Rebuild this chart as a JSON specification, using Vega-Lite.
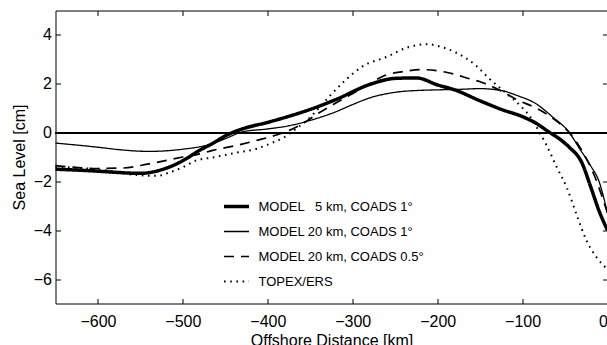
{
  "$schema": "https://vega.github.io/schema/vega-lite/v6.json",
  "width": 552,
  "height": 293,
  "autosize": {"type": "none"},
  "padding": {"left": 55.5, "top": 10.5, "right": 0, "bottom": 41.5},
  "background": "white",
  "config": {
    "view": {"stroke": "black", "strokeWidth": 1},
    "font": "Liberation Sans",
    "axis": {"grid": false, "domain": false, "tickColor": "black", "tickSize": -5, "tickWidth": 1, "labelColor": "black", "labelFont": "Liberation Sans", "labelFontSize": 16, "titleFont": "Liberation Sans", "titleFontSize": 16, "titleFontWeight": "normal", "titleColor": "black"}
  },
  "data": {"values": [
    {"s": "MODEL \u20075 km, COADS 1°", "x": -650, "y": -1.5},
    {"s": "MODEL \u20075 km, COADS 1°", "x": -600, "y": -1.58},
    {"s": "MODEL \u20075 km, COADS 1°", "x": -578, "y": -1.63},
    {"s": "MODEL \u20075 km, COADS 1°", "x": -550, "y": -1.67},
    {"s": "MODEL \u20075 km, COADS 1°", "x": -525, "y": -1.52},
    {"s": "MODEL \u20075 km, COADS 1°", "x": -500, "y": -1.15},
    {"s": "MODEL \u20075 km, COADS 1°", "x": -480, "y": -0.72},
    {"s": "MODEL \u20075 km, COADS 1°", "x": -468, "y": -0.5},
    {"s": "MODEL \u20075 km, COADS 1°", "x": -445, "y": -0.05},
    {"s": "MODEL \u20075 km, COADS 1°", "x": -430, "y": 0.15},
    {"s": "MODEL \u20075 km, COADS 1°", "x": -400, "y": 0.42},
    {"s": "MODEL \u20075 km, COADS 1°", "x": -374, "y": 0.68},
    {"s": "MODEL \u20075 km, COADS 1°", "x": -350, "y": 0.95},
    {"s": "MODEL \u20075 km, COADS 1°", "x": -320, "y": 1.35},
    {"s": "MODEL \u20075 km, COADS 1°", "x": -280, "y": 1.97},
    {"s": "MODEL \u20075 km, COADS 1°", "x": -250, "y": 2.22},
    {"s": "MODEL \u20075 km, COADS 1°", "x": -225, "y": 2.24},
    {"s": "MODEL \u20075 km, COADS 1°", "x": -200, "y": 1.95},
    {"s": "MODEL \u20075 km, COADS 1°", "x": -180, "y": 1.75},
    {"s": "MODEL \u20075 km, COADS 1°", "x": -150, "y": 1.3},
    {"s": "MODEL \u20075 km, COADS 1°", "x": -125, "y": 0.95},
    {"s": "MODEL \u20075 km, COADS 1°", "x": -100, "y": 0.65},
    {"s": "MODEL \u20075 km, COADS 1°", "x": -85, "y": 0.4},
    {"s": "MODEL \u20075 km, COADS 1°", "x": -70, "y": 0.05},
    {"s": "MODEL \u20075 km, COADS 1°", "x": -55, "y": -0.3},
    {"s": "MODEL \u20075 km, COADS 1°", "x": -45, "y": -0.6},
    {"s": "MODEL \u20075 km, COADS 1°", "x": -30, "y": -1.25},
    {"s": "MODEL \u20075 km, COADS 1°", "x": -20, "y": -2.2},
    {"s": "MODEL \u20075 km, COADS 1°", "x": -10, "y": -3.2},
    {"s": "MODEL \u20075 km, COADS 1°", "x": 0, "y": -4.0},

    {"s": "MODEL 20 km, COADS 1°", "x": -650, "y": -0.43},
    {"s": "MODEL 20 km, COADS 1°", "x": -600, "y": -0.6},
    {"s": "MODEL 20 km, COADS 1°", "x": -575, "y": -0.7},
    {"s": "MODEL 20 km, COADS 1°", "x": -540, "y": -0.77},
    {"s": "MODEL 20 km, COADS 1°", "x": -500, "y": -0.68},
    {"s": "MODEL 20 km, COADS 1°", "x": -470, "y": -0.5},
    {"s": "MODEL 20 km, COADS 1°", "x": -450, "y": -0.25},
    {"s": "MODEL 20 km, COADS 1°", "x": -430, "y": 0.03},
    {"s": "MODEL 20 km, COADS 1°", "x": -400, "y": 0.15},
    {"s": "MODEL 20 km, COADS 1°", "x": -375, "y": 0.28},
    {"s": "MODEL 20 km, COADS 1°", "x": -350, "y": 0.5},
    {"s": "MODEL 20 km, COADS 1°", "x": -320, "y": 0.85},
    {"s": "MODEL 20 km, COADS 1°", "x": -300, "y": 1.15},
    {"s": "MODEL 20 km, COADS 1°", "x": -280, "y": 1.42},
    {"s": "MODEL 20 km, COADS 1°", "x": -250, "y": 1.65},
    {"s": "MODEL 20 km, COADS 1°", "x": -220, "y": 1.73},
    {"s": "MODEL 20 km, COADS 1°", "x": -200, "y": 1.75},
    {"s": "MODEL 20 km, COADS 1°", "x": -175, "y": 1.77},
    {"s": "MODEL 20 km, COADS 1°", "x": -150, "y": 1.8},
    {"s": "MODEL 20 km, COADS 1°", "x": -125, "y": 1.72},
    {"s": "MODEL 20 km, COADS 1°", "x": -105, "y": 1.5},
    {"s": "MODEL 20 km, COADS 1°", "x": -85, "y": 1.2},
    {"s": "MODEL 20 km, COADS 1°", "x": -65, "y": 0.65},
    {"s": "MODEL 20 km, COADS 1°", "x": -45, "y": 0.0},
    {"s": "MODEL 20 km, COADS 1°", "x": -33, "y": -0.65},
    {"s": "MODEL 20 km, COADS 1°", "x": -20, "y": -1.35},
    {"s": "MODEL 20 km, COADS 1°", "x": -10, "y": -2.0},
    {"s": "MODEL 20 km, COADS 1°", "x": 0, "y": -3.3},

    {"s": "MODEL 20 km, COADS 0.5°", "x": -650, "y": -1.35},
    {"s": "MODEL 20 km, COADS 0.5°", "x": -600, "y": -1.47},
    {"s": "MODEL 20 km, COADS 0.5°", "x": -570, "y": -1.45},
    {"s": "MODEL 20 km, COADS 0.5°", "x": -540, "y": -1.28},
    {"s": "MODEL 20 km, COADS 0.5°", "x": -500, "y": -1.0},
    {"s": "MODEL 20 km, COADS 0.5°", "x": -480, "y": -0.87},
    {"s": "MODEL 20 km, COADS 0.5°", "x": -465, "y": -0.73},
    {"s": "MODEL 20 km, COADS 0.5°", "x": -440, "y": -0.55},
    {"s": "MODEL 20 km, COADS 0.5°", "x": -413, "y": -0.32},
    {"s": "MODEL 20 km, COADS 0.5°", "x": -390, "y": -0.1},
    {"s": "MODEL 20 km, COADS 0.5°", "x": -374, "y": 0.1},
    {"s": "MODEL 20 km, COADS 0.5°", "x": -355, "y": 0.45},
    {"s": "MODEL 20 km, COADS 0.5°", "x": -340, "y": 0.8},
    {"s": "MODEL 20 km, COADS 0.5°", "x": -323, "y": 1.15},
    {"s": "MODEL 20 km, COADS 0.5°", "x": -300, "y": 1.6},
    {"s": "MODEL 20 km, COADS 0.5°", "x": -280, "y": 2.0},
    {"s": "MODEL 20 km, COADS 0.5°", "x": -265, "y": 2.3},
    {"s": "MODEL 20 km, COADS 0.5°", "x": -240, "y": 2.5},
    {"s": "MODEL 20 km, COADS 0.5°", "x": -220, "y": 2.58},
    {"s": "MODEL 20 km, COADS 0.5°", "x": -190, "y": 2.47},
    {"s": "MODEL 20 km, COADS 0.5°", "x": -162, "y": 2.2},
    {"s": "MODEL 20 km, COADS 0.5°", "x": -150, "y": 2.08},
    {"s": "MODEL 20 km, COADS 0.5°", "x": -125, "y": 1.7},
    {"s": "MODEL 20 km, COADS 0.5°", "x": -107, "y": 1.35},
    {"s": "MODEL 20 km, COADS 0.5°", "x": -84, "y": 1.0},
    {"s": "MODEL 20 km, COADS 0.5°", "x": -65, "y": 0.6},
    {"s": "MODEL 20 km, COADS 0.5°", "x": -45, "y": 0.0},
    {"s": "MODEL 20 km, COADS 0.5°", "x": -30, "y": -0.75},
    {"s": "MODEL 20 km, COADS 0.5°", "x": -15, "y": -1.8},
    {"s": "MODEL 20 km, COADS 0.5°", "x": 0, "y": -3.3},

    {"s": "TOPEX/ERS", "x": -650, "y": -1.4},
    {"s": "TOPEX/ERS", "x": -620, "y": -1.45},
    {"s": "TOPEX/ERS", "x": -590, "y": -1.55},
    {"s": "TOPEX/ERS", "x": -560, "y": -1.72},
    {"s": "TOPEX/ERS", "x": -530, "y": -1.77},
    {"s": "TOPEX/ERS", "x": -515, "y": -1.62},
    {"s": "TOPEX/ERS", "x": -500, "y": -1.42},
    {"s": "TOPEX/ERS", "x": -485, "y": -1.15},
    {"s": "TOPEX/ERS", "x": -465, "y": -1.02},
    {"s": "TOPEX/ERS", "x": -441, "y": -0.85},
    {"s": "TOPEX/ERS", "x": -413, "y": -0.66},
    {"s": "TOPEX/ERS", "x": -395, "y": -0.42},
    {"s": "TOPEX/ERS", "x": -382, "y": -0.22},
    {"s": "TOPEX/ERS", "x": -365, "y": 0.2},
    {"s": "TOPEX/ERS", "x": -354, "y": 0.5},
    {"s": "TOPEX/ERS", "x": -340, "y": 1.0},
    {"s": "TOPEX/ERS", "x": -327, "y": 1.5},
    {"s": "TOPEX/ERS", "x": -310, "y": 2.1},
    {"s": "TOPEX/ERS", "x": -288, "y": 2.72},
    {"s": "TOPEX/ERS", "x": -260, "y": 3.1},
    {"s": "TOPEX/ERS", "x": -236, "y": 3.48},
    {"s": "TOPEX/ERS", "x": -212, "y": 3.62},
    {"s": "TOPEX/ERS", "x": -195, "y": 3.5},
    {"s": "TOPEX/ERS", "x": -178, "y": 3.27},
    {"s": "TOPEX/ERS", "x": -154, "y": 2.72},
    {"s": "TOPEX/ERS", "x": -142, "y": 2.3},
    {"s": "TOPEX/ERS", "x": -124, "y": 1.75},
    {"s": "TOPEX/ERS", "x": -101, "y": 1.04},
    {"s": "TOPEX/ERS", "x": -88, "y": 0.5},
    {"s": "TOPEX/ERS", "x": -80, "y": 0.0},
    {"s": "TOPEX/ERS", "x": -72, "y": -0.5},
    {"s": "TOPEX/ERS", "x": -60, "y": -1.4},
    {"s": "TOPEX/ERS", "x": -48, "y": -2.25},
    {"s": "TOPEX/ERS", "x": -36, "y": -3.4},
    {"s": "TOPEX/ERS", "x": -25, "y": -4.4},
    {"s": "TOPEX/ERS", "x": -13, "y": -5.1},
    {"s": "TOPEX/ERS", "x": 0, "y": -5.6}
  ]},
  "resolve": {"axis": {"x": "independent", "y": "independent"}},
  "layer": [
    {
      "mark": {"type": "line", "opacity": 0},
      "encoding": {
        "x": {"field": "x", "type": "quantitative", "scale": {"domain": [-650, 0], "nice": false, "zero": false}, "axis": {"orient": "top", "labels": false, "title": null, "values": [-600, -500, -400, -300, -200, -100, 0]}},
        "y": {"field": "y", "type": "quantitative", "scale": {"domain": [-7, 5], "nice": false, "zero": false}, "axis": {"orient": "right", "labels": false, "title": null, "values": [-6, -4, -2, 0, 2, 4]}},
        "detail": {"field": "s"}
      }
    },
    {
      "mark": {"type": "rule", "color": "black", "strokeWidth": 1.2},
      "encoding": {"y": {"datum": 0, "type": "quantitative", "axis": null}}
    },
    {
      "mark": {"type": "line", "color": "black", "interpolate": "monotone", "strokeCap": "butt"},
      "encoding": {
        "x": {"field": "x", "type": "quantitative", "axis": {"orient": "bottom", "title": "Offshore Distance [km]", "values": [-600, -500, -400, -300, -200, -100, 0], "labelPadding": 15, "titlePadding": 3}},
        "y": {"field": "y", "type": "quantitative", "axis": {"orient": "left", "title": "Sea Level [cm]", "values": [-6, -4, -2, 0, 2, 4], "labelPadding": 9, "titlePadding": 6}},
        "strokeDash": {"field": "s", "type": "nominal", "title": null,
          "scale": {"domain": ["MODEL \u20075 km, COADS 1°", "MODEL 20 km, COADS 1°", "MODEL 20 km, COADS 0.5°", "TOPEX/ERS"], "range": [[1, 0], [1, 0], [10, 7], [1.6, 4.6]]}},
        "strokeWidth": {"field": "s", "type": "nominal", "title": null,
          "scale": {"type": "ordinal", "domain": ["MODEL \u20075 km, COADS 1°", "MODEL 20 km, COADS 1°", "MODEL 20 km, COADS 0.5°", "TOPEX/ERS"], "range": [3.5, 1.3, 1.7, 2]},
          "legend": {"orient": "none", "legendX": 166.5, "legendY": 181.5, "padding": 0, "symbolType": "stroke", "symbolSize": 625, "symbolStrokeColor": "black", "labelFont": "Liberation Sans", "labelFontSize": 13, "labelColor": "black", "labelOffset": 7.5, "rowPadding": 4, "labelLimit": 300}}
      }
    }
  ]
}
